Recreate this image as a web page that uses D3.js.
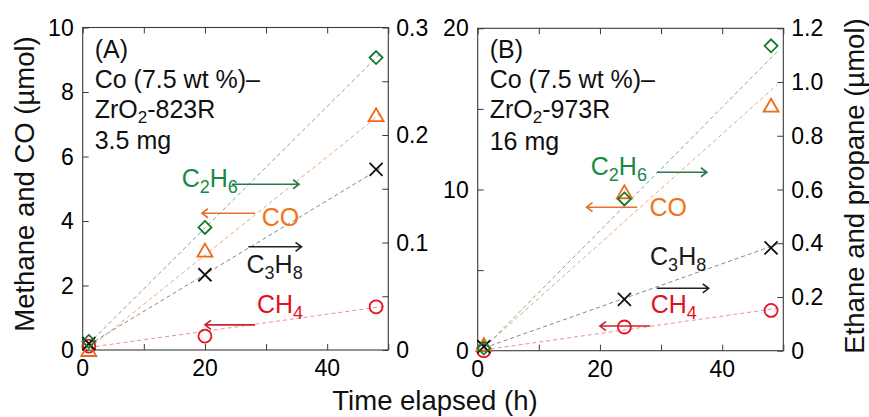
<!DOCTYPE html>
<html>
<head>
<meta charset="utf-8">
<script src="https://cdn.jsdelivr.net/npm/d3@7"></script>
<style>
  body { margin: 0; background: #fff; }
  svg text { font-family: "Liberation Sans", Arial, Helvetica, sans-serif; }
</style>
</head>
<body>
<div id="chart"></div>
<script>
// time points (h)
const timeA = [1, 20, 48]
const timeB = [1, 24, 48]

// panel A: methane and CO on left axis, ethane and propane on right axis (umol)
const methaneA = [0.12, 0.43, 1.34]
const coA = [0.0, 3.08, 7.28]
const ethaneA = [0.008, 0.114, 0.272]
const propaneA = [0.006, 0.070, 0.168]

// panel B
const methaneB = [0.0, 1.47, 2.50]
const coB = [0.35, 9.83, 15.2]
const ethaneB = [0.01, 0.565, 1.135]
const propaneB = [0.015, 0.191, 0.383]

// dashed fit lines, [time, value] endpoints
const fitA = {
  ethane: [[1, 0.006], [49, 0.2775]],
  co: [[1, 0.05], [49, 7.36]],
  propane: [[1, 0.005], [49, 0.170]],
  methane: [[1, 0.08], [49.5, 1.36]]
}
const fitB = {
  ethane: [[1, 0.01], [49, 1.113]],
  co: [[1, 0.2], [49, 16.5]],
  propane: [[1, 0.01], [49, 0.396]],
  methane: [[1, 0.05], [49, 2.63]]
}

// axis ticks
const xTicks = [0, 10, 20, 30, 40, 50]
const xLabels = [0, 20, 40]
const leftTicksA = [0, 2, 4, 6, 8, 10]
const rightTicksA = [0, 0.05, 0.1, 0.15, 0.2, 0.25, 0.3]
const rightLabelsA = [0, 0.1, 0.2, 0.3]
const leftTicksB = [0, 5, 10, 15, 20]
const leftLabelsB = [0, 10, 20]
const rightTicksB = [0, 0.2, 0.4, 0.6, 0.8, 1.0, 1.2]

// arrow labels in left-axis data units: text [t, v], arrow [t0, t1, v]
const notesA = [
  { name: "ethane", main: "C", sub1: "2", mid: "H", sub2: "6", text: [16.2, 5.05], arrow: [24.4, 35.4, 5.14] },
  { name: "co", main: "CO", text: [29.3, 3.83], arrow: [28.2, 19.5, 4.24] },
  { name: "propane", main: "C", sub1: "3", mid: "H", sub2: "8", text: [26.8, 2.39], arrow: [27.1, 35.8, 3.2] },
  { name: "methane", main: "CH", sub1: "4", text: [28.5, 1.16], arrow: [28.2, 20.0, 0.78] }
]
const notesB = [
  { name: "ethane", main: "C", sub1: "2", mid: "H", sub2: "6", text: [18.5, 10.9], arrow: [29.3, 37.5, 11.07] },
  { name: "co", main: "CO", text: [28.1, 8.33], arrow: [26.1, 17.8, 8.9] },
  { name: "propane", main: "C", sub1: "3", mid: "H", sub2: "8", text: [28.2, 5.32], arrow: [29.3, 37.8, 3.87] },
  { name: "methane", main: "CH", sub1: "4", text: [28.3, 2.34], arrow: [28.2, 20.0, 1.53] }
]

const colors = {
  ethane: { mark: "#127a30", line: "#7fa898", text: "#168a44", arrow: "#2a7a4a" },
  co: { mark: "#ef6a18", line: "#f0a56e", text: "#f07418", arrow: "#e8702e" },
  propane: { mark: "#111", line: "#888", text: "#1a1a1a", arrow: "#222" },
  methane: { mark: "#ea1020", line: "#e89098", text: "#e4101c", arrow: "#c8242e" }
}

const W = 869, H = 417
const svg = d3.select("#chart").append("svg")
  .attr("width", W).attr("height", H)

const fmtA = d => d === 0 ? "0" : (Number.isInteger(d) ? String(d) : d3.format(".1f")(d))
const fmtB = d => d === 0 ? "0" : d3.format(".1f")(d)

function drawPanel(cfg) {
  const x = d3.scaleLinear().domain([0, 50]).range([cfg.left, cfg.right])
  const yl = d3.scaleLinear().domain([0, cfg.leftMax]).range([cfg.bottom, cfg.top])
  const yr = d3.scaleLinear().domain([0, cfg.rightMax]).range([cfg.bottom, cfg.top])
  const g = svg.append("g")
  const tk = 6

  // frame
  g.append("rect")
    .attr("x", cfg.left).attr("y", cfg.top)
    .attr("width", cfg.right - cfg.left).attr("height", cfg.bottom - cfg.top)
    .attr("fill", "none").attr("stroke", "#3a3a3a").attr("stroke-width", 1.1)

  // axes with inward ticks
  const axB = d3.axisBottom(x).tickValues(xTicks).tickSize(-tk).tickFormat("")
  const axT = d3.axisTop(x).tickValues(xTicks).tickSize(-tk).tickFormat("")
  const axL = d3.axisLeft(yl).tickValues(cfg.leftTicks).tickSize(-tk).tickFormat("")
  const axR = d3.axisRight(yr).tickValues(cfg.rightTicks).tickSize(-tk).tickFormat("")
  const style = sel => {
    sel.select(".domain").remove()
    sel.selectAll("line").attr("stroke", "#3a3a3a")
  }
  g.append("g").attr("transform", `translate(0,${cfg.bottom})`).call(axB).call(style)
  g.append("g").attr("transform", `translate(0,${cfg.top})`).call(axT).call(style)
  g.append("g").attr("transform", `translate(${cfg.left},0)`).call(axL).call(style)
  g.append("g").attr("transform", `translate(${cfg.right},0)`).call(axR).call(style)

  // tick labels
  g.selectAll(".xl").data(xLabels).enter().append("text")
    .attr("x", d => x(d)).attr("y", cfg.bottom + 26)
    .attr("text-anchor", "middle").attr("font-size", 23).text(d => d)
  g.selectAll(".yl").data(cfg.leftLabels).enter().append("text")
    .attr("x", cfg.left - 9).attr("y", d => yl(d) + 8)
    .attr("text-anchor", "end").attr("font-size", 23).text(fmtA)
  g.selectAll(".yr").data(cfg.rightLabels).enter().append("text")
    .attr("x", cfg.right + 8).attr("y", d => yr(d) + 8)
    .attr("text-anchor", "start").attr("font-size", 23).text(cfg.rightFmt)

  // dashed fit lines
  const line = scale => d3.line().x(d => x(d[0])).y(d => scale(d[1]))
  const fits = [
    ["methane", yl], ["propane", yr], ["co", yl], ["ethane", yr]
  ]
  fits.forEach(([k, sc]) => {
    g.append("path").datum(cfg.fit[k])
      .attr("d", line(sc))
      .attr("fill", "none").attr("stroke", colors[k].line)
      .attr("stroke-width", 1).attr("stroke-dasharray", "4,3")
  })

  const pts = (vals, sc) => vals.map((v, i) => [x(cfg.time[i]), sc(v)])

  // methane circles
  g.selectAll(".ch4").data(pts(cfg.methane, yl)).enter().append("circle")
    .attr("cx", d => d[0]).attr("cy", d => d[1]).attr("r", 6.5)
    .attr("fill", "none").attr("stroke", colors.methane.mark).attr("stroke-width", 1.8)
  // CO triangles
  g.selectAll(".co").data(pts(cfg.co, yl)).enter().append("path")
    .attr("d", d => `M${d[0]},${d[1] - 7}L${d[0] + 7.5},${d[1] + 6}L${d[0] - 7.5},${d[1] + 6}Z`)
    .attr("fill", "none").attr("stroke", colors.co.mark).attr("stroke-width", 1.8)
  // propane crosses
  g.selectAll(".c3").data(pts(cfg.propane, yr)).enter().append("path")
    .attr("d", d => `M${d[0] - 6.5},${d[1] - 6.5}L${d[0] + 6.5},${d[1] + 6.5}M${d[0] + 6.5},${d[1] - 6.5}L${d[0] - 6.5},${d[1] + 6.5}`)
    .attr("fill", "none").attr("stroke", colors.propane.mark).attr("stroke-width", 1.8)
  // ethane diamonds
  g.selectAll(".c2").data(pts(cfg.ethane, yr)).enter().append("path")
    .attr("d", d => `M${d[0]},${d[1] - 6.5}L${d[0] + 6.5},${d[1]}L${d[0]},${d[1] + 6.5}L${d[0] - 6.5},${d[1]}Z`)
    .attr("fill", "none").attr("stroke", colors.ethane.mark).attr("stroke-width", 1.8)

  // species labels with arrows
  cfg.notes.forEach(n => {
    const c = colors[n.name]
    const t = g.append("text")
      .attr("x", x(n.text[0])).attr("y", yl(n.text[1]))
      .attr("font-size", 25).attr("fill", c.text)
    t.append("tspan").text(n.main)
    if (n.sub1) t.append("tspan").attr("font-size", 18).attr("dy", 6).text(n.sub1)
    if (n.mid) t.append("tspan").attr("font-size", 25).attr("dy", -6).text(n.mid)
    if (n.sub2) t.append("tspan").attr("font-size", 18).attr("dy", 6).text(n.sub2)

    const x0 = x(n.arrow[0]), x1 = x(n.arrow[1]), ay = yl(n.arrow[2])
    const dir = x1 > x0 ? 1 : -1
    g.append("path")
      .attr("d", `M${x0},${ay}L${x1},${ay}M${x1 - dir * 6},${ay - 4.5}L${x1},${ay}L${x1 - dir * 6},${ay + 4.5}`)
      .attr("fill", "none").attr("stroke", c.arrow).attr("stroke-width", 1.6)
  })

  // panel caption, one text per line
  const cx = cfg.left + 12
  const capLine = (y) => g.append("text").attr("x", cx).attr("y", cfg.top + y)
    .attr("font-size", 25).attr("fill", "#111")
  capLine(30).text(cfg.label)
  capLine(60).text("Co (7.5 wt %)–")
  const l3 = capLine(90)
  l3.append("tspan").text("ZrO")
  l3.append("tspan").attr("font-size", 17).attr("dy", 5).text("2")
  l3.append("tspan").attr("font-size", 25).attr("dy", -5).text(cfg.sample)
  capLine(121.5).text(cfg.mass)
}

drawPanel({
  left: 82.7, right: 388.3, top: 27.5, bottom: 350,
  leftMax: 10, rightMax: 0.3,
  leftTicks: leftTicksA, leftLabels: leftTicksA,
  rightTicks: rightTicksA, rightLabels: rightLabelsA, rightFmt: fmtA,
  time: timeA, methane: methaneA, co: coA, ethane: ethaneA, propane: propaneA,
  fit: fitA, notes: notesA,
  label: "(A)", sample: "-823R", mass: "3.5 mg"
})

drawPanel({
  left: 477.7, right: 783.3, top: 28.3, bottom: 350.7,
  leftMax: 20, rightMax: 1.2,
  leftTicks: leftTicksB, leftLabels: leftLabelsB,
  rightTicks: rightTicksB, rightLabels: rightTicksB, rightFmt: fmtB,
  time: timeB, methane: methaneB, co: coB, ethane: ethaneB, propane: propaneB,
  fit: fitB, notes: notesB,
  label: "(B)", sample: "-973R", mass: "16 mg"
})

// axis titles
svg.append("text")
  .attr("transform", "translate(34,184) rotate(-90)")
  .attr("text-anchor", "middle").attr("font-size", 27.5).attr("fill", "#111")
  .text("Methane and CO (µmol)")
svg.append("text")
  .attr("transform", "translate(864,186) rotate(-90)")
  .attr("text-anchor", "middle").attr("font-size", 27.5).attr("fill", "#111")
  .text("Ethane and propane (µmol)")
svg.append("text")
  .attr("x", 435).attr("y", 410)
  .attr("text-anchor", "middle").attr("font-size", 27.5).attr("fill", "#111")
  .text("Time elapsed (h)")
</script>
</body>
</html>
